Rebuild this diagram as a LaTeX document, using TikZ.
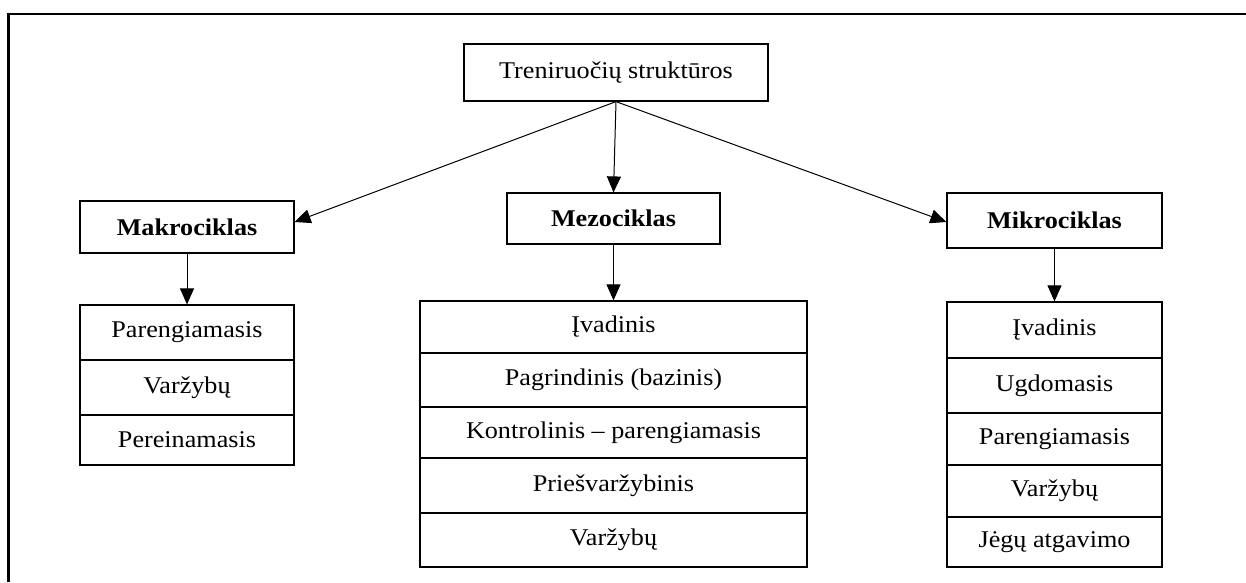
\documentclass[tikz,border=0pt]{standalone}
\usepackage{fontspec}
\setmainfont[FakeStretch=1.09]{Liberation Serif}
\usetikzlibrary{arrows.meta}
\begin{document}
\begin{tikzpicture}[x=1pt,y=-1pt,
  box/.style={draw, line width=1.2pt, inner sep=0pt, font=\fontsize{24}{28}\selectfont},
  head/.style={box, font=\fontsize{24}{28}\selectfont\bfseries},
  arr/.style={-{Triangle[length=16pt,width=14pt]}, line width=1pt}]
\useasboundingbox (0,0) rectangle (1246,582);
\draw[line width=2.5pt] (8.5,582) -- (8.5,14) -- (1246,14);

\node[box, minimum width=304pt, minimum height=57pt] (top) at (616,72.5) {Treniruočių struktūros};

\node[head, minimum width=214pt, minimum height=52pt] (makro) at (187,227) {Makrociklas};
\node[head, minimum width=213pt, minimum height=51pt] (mezo) at (613.5,218.5) {Mezociklas};
\node[head, minimum width=215pt, minimum height=55pt] (mikro) at (1054.5,220.5) {Mikrociklas};

% Makro list
\node[box, minimum width=214pt, minimum height=55pt] (ma1) at (187,332.5) {Parengiamasis};
\node[box, minimum width=214pt, minimum height=55pt] (ma2) at (187,387.5) {Varžybų};
\node[box, minimum width=214pt, minimum height=50pt] (ma3) at (187,440) {Pereinamasis};

% Mezo list
\node[box, minimum width=387pt, minimum height=52pt] (me1) at (613.5,327) {Įvadinis};
\node[box, minimum width=387pt, minimum height=54pt] (me2) at (613.5,380) {Pagrindinis (bazinis)};
\node[box, minimum width=387pt, minimum height=51pt] (me3) at (613.5,432.5) {Kontrolinis – parengiamasis};
\node[box, minimum width=387pt, minimum height=55pt] (me4) at (613.5,485.5) {Priešvaržybinis};
\node[box, minimum width=387pt, minimum height=54pt] (me5) at (613.5,540) {Varžybų};

% Mikro list
\node[box, minimum width=215pt, minimum height=56pt] (mi1) at (1054.5,330) {Įvadinis};
\node[box, minimum width=215pt, minimum height=55pt] (mi2) at (1054.5,385.5) {Ugdomasis};
\node[box, minimum width=215pt, minimum height=52pt] (mi3) at (1054.5,439) {Parengiamasis};
\node[box, minimum width=215pt, minimum height=52pt] (mi4) at (1054.5,491) {Varžybų};
\node[box, minimum width=215pt, minimum height=50pt] (mi5) at (1054.5,542) {Jėgų atgavimo};

\draw[arr] (top.south) -- ([yshift=5pt]makro.east);
\draw[arr] (top.south) -- (mezo.north);
\draw[arr] (top.south) -- ([yshift=-1.5pt]mikro.west);
\draw[arr] (makro.south) -- (ma1.north);
\draw[arr] (mezo.south) -- (me1.north);
\draw[arr] (mikro.south) -- (mi1.north);
\end{tikzpicture}
\end{document}
